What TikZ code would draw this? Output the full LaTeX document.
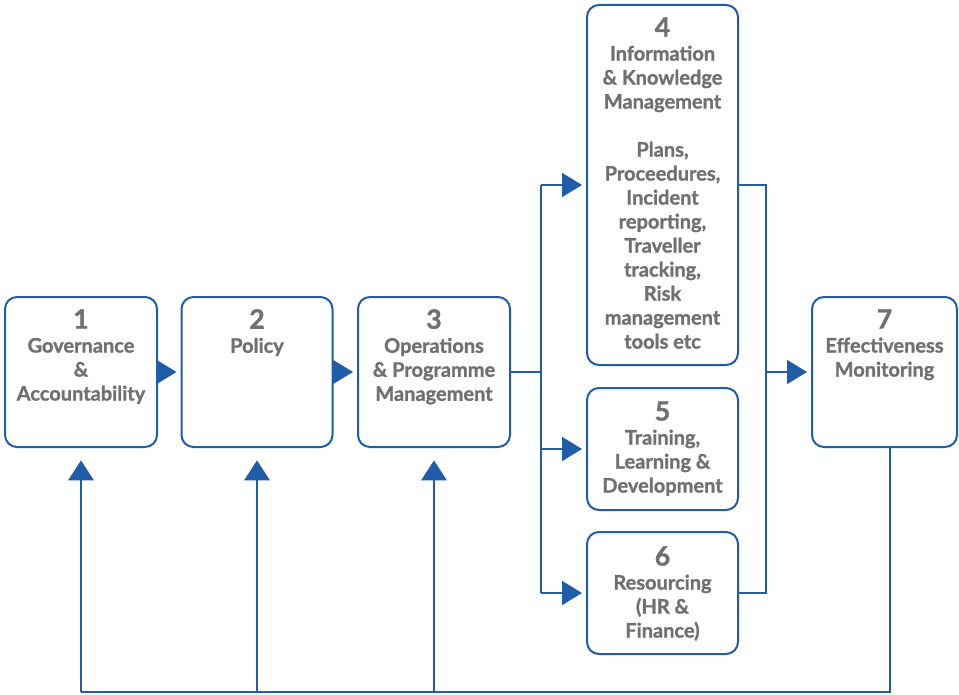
\documentclass[tikz,border=0pt]{standalone}
\usepackage{fontspec}
\setmainfont{Lato}[BoldFeatures={FakeBold=1.2}]
\usetikzlibrary{arrows.meta}

\definecolor{frameblue}{HTML}{1F5DA8}
\definecolor{textgrey}{HTML}{707070}
\newcommand{\boxnum}[1]{{\fontsize{20}{18}\selectfont #1}\\}

\begin{document}
\begin{tikzpicture}[x=0.75pt, y=-0.75pt,
  box/.style={draw=frameblue, line width=1.5pt, rounded corners=9pt, outer sep=0pt},
  boxtext/.style={anchor=north, inner sep=0pt, align=center, text=textgrey,
    font=\bfseries\fontsize{15}{18}\selectfont},
  link/.style={draw=frameblue, line width=1.4pt},
  arr/.style={link, -{Triangle[length=15pt, width=18pt]}, shorten >=3.75pt},
  uparr/.style={link, -{Triangle[length=15pt, width=19pt]}, shorten >=10pt},
  ]
  \useasboundingbox (0,0) rectangle (959,695);

  % Boxes
  \node[box, minimum width=114pt, minimum height=112.5pt] (gov) at (81,372) {};
  \node[box, minimum width=113.25pt, minimum height=112.5pt] (pol) at (257,372) {};
  \node[box, minimum width=114pt, minimum height=112.5pt] (ops) at (434,372) {};
  \node[box, minimum width=113.25pt, minimum height=270pt] (info) at (662.5,185) {};
  \node[box, minimum width=113.25pt, minimum height=91.5pt] (train) at (662.5,449) {};
  \node[box, minimum width=113.25pt, minimum height=91.5pt] (res) at (662.5,593) {};
  \node[box, minimum width=108.75pt, minimum height=112.5pt] (eff) at (884.5,372) {};

  % Box texts
  \node[boxtext] (gov-t) at (81,309) {\boxnum{1}Governance\\\&\\Accountability};
  \node[boxtext] (pol-t) at (257,309) {\boxnum{2}Policy};
  \node[boxtext] (ops-t) at (434,309) {\boxnum{3}Operations\\\& Programme\\Management};
  \node[boxtext] (info-t) at (662.5,17) {\boxnum{4}Information\\\& Knowledge\\Management\\[18pt]
    Plans,\\Proceedures,\\Incident\\reporting,\\Traveller\\tracking,\\Risk\\management\\tools etc};
  \node[boxtext] (train-t) at (662.5,401) {\boxnum{5}Training,\\Learning \&\\Development};
  \node[boxtext] (res-t) at (662.5,546) {\boxnum{6}Resourcing\\(HR \&\\Finance)};
  \node[boxtext] (eff-t) at (884.5,309) {\boxnum{7}Effectiveness\\Monitoring};

  % Main chain
  \draw[arr] (gov) -- (pol);
  \draw[arr] (pol) -- (ops);

  % Fork into 4, 5 and 6
  \coordinate (fork) at (541,372);
  \draw[link] (ops) -- (fork);
  \draw[link] (fork |- info.west) -- (fork |- res.west);
  \draw[arr] (fork |- info.west) -- (info.west);
  \draw[arr] (fork |- train.west) -- (train.west);
  \draw[arr] (fork |- res.west) -- (res.west);

  % Merge into 7
  \coordinate (merge) at (766,372);
  \draw[link] (info.east) -- (merge |- info.east) -- (merge |- res.east) -- (res.east);
  \draw[arr] (merge) -- (eff);

  % Feedback loop
  \coordinate (fb) at (890,692);
  \draw[link] (fb |- eff.south) -- (fb) -- (gov.south |- fb);
  \draw[uparr] (gov.south |- fb) -- (gov.south);
  \draw[uparr] (pol.south |- fb) -- (pol.south);
  \draw[uparr] (ops.south |- fb) -- (ops.south);
\end{tikzpicture}
\end{document}
